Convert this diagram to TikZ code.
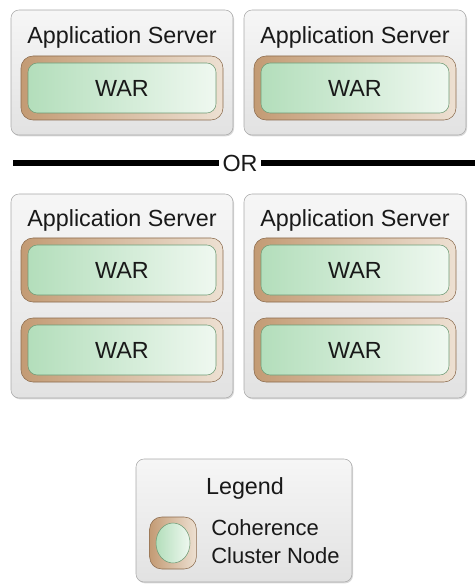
\documentclass[tikz,border=0pt]{standalone}
\usepackage{fontspec}
\setmainfont{Liberation Sans}
\usetikzlibrary{shadows,shapes.geometric}
\definecolor{srvline}{HTML}{A9A9A9}
\definecolor{srvtop}{HTML}{F6F6F6}
\definecolor{srvbot}{HTML}{E2E2E2}
\definecolor{tanline}{HTML}{8A6A4C}
\definecolor{tandark}{HTML}{C39B74}
\definecolor{tanlight}{HTML}{EDE0D2}
\definecolor{grnline}{HTML}{6E9A74}
\definecolor{grndark}{HTML}{B3DEBB}
\definecolor{grnlight}{HTML}{EFF8F0}
\tikzset{
  server/.style={draw=srvline, rounded corners=6pt, minimum width=166.5pt,
    top color=srvtop, bottom color=srvbot,
    drop shadow={opacity=.3, shadow xshift=.8pt, shadow yshift=-1pt}},
  warout/.style={draw=tanline, rounded corners=9pt, minimum width=151.5pt,
    minimum height=48pt, left color=tandark, right color=tanlight},
  warin/.style={draw=grnline, rounded corners=7pt, minimum width=141pt,
    minimum height=37.5pt, left color=grndark, right color=grnlight,
    font=\fontsize{17.5}{20}\selectfont, text=black!90},
  label/.style={inner sep=0pt, font=\fontsize{17.5}{20}\selectfont, text=black!90}
}
\begin{document}
\begin{tikzpicture}[x=0.75pt,y=-0.75pt]
\useasboundingbox (0,0) rectangle (475,584);
% first way: one WAR per server
\node[server, minimum height=93.75pt] (srv0) at (122,72.5){};
\node[server, minimum height=93.75pt] (srv1) at (355,72.5){};
\node[label] (srv0-t) at (122,37){Application Server};
\node[label] (srv1-t) at (355,37){Application Server};
\node[warout] (war0o) at (122,88){};
\node[warin] (war0) at (122,88){WAR};
\node[warout] (war1o) at (355,88){};
\node[warin] (war1) at (355,88){WAR};
% separator
\coordinate (orL) at (13,163);
\coordinate (orR) at (475,163);
\node[label, inner sep=2.5pt] (or) at (240,163){OR};
\draw[line width=5pt] (orL) -- (or.west);
\draw[line width=5pt] (or.east) -- (orR);
% second way: two WARs per server
\node[server, minimum height=153pt] (srv2) at (122,296){};
\node[server, minimum height=153pt] (srv3) at (355,296){};
\node[label] (srv2-t) at (122,220){Application Server};
\node[label] (srv3-t) at (355,220){Application Server};
\node[warout] (war2o) at (122,270){};
\node[warin] (war2) at (122,270){WAR};
\node[warout] (war3o) at (122,350){};
\node[warin] (war3) at (122,350){WAR};
\node[warout] (war4o) at (355,270){};
\node[warin] (war4) at (355,270){WAR};
\node[warout] (war5o) at (355,350){};
\node[warin] (war5) at (355,350){WAR};
% legend
\node[server, minimum width=162pt, minimum height=92.25pt] (leg) at (244,520.5){};
\node[label] (leg-t) at (245,488){Legend};
\node[warout, minimum width=35pt, minimum height=39pt] (leg-no) at (173,543){};
\node[ellipse, draw=grnline, left color=grndark, right color=grnlight,
  minimum width=25.5pt, minimum height=30pt] (leg-n) at (173,543){};
\node[label, anchor=west, font=\fontsize{16.5}{19}\selectfont] (leg-t1) at (211,528){Coherence};
\node[label, anchor=west, font=\fontsize{16.5}{19}\selectfont] (leg-t2) at (211,556){Cluster Node};
\end{tikzpicture}
\end{document}
